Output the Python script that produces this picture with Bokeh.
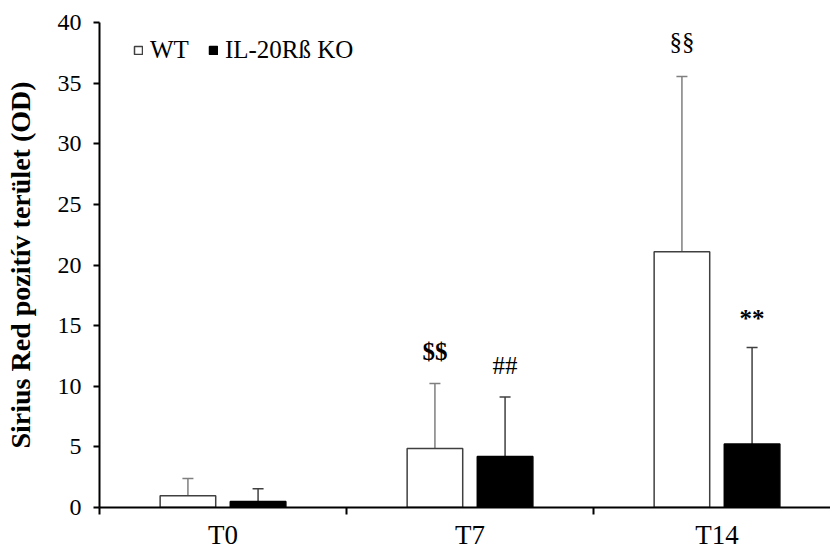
import numpy as np
from bokeh.plotting import figure
from bokeh.models import (Range1d, FixedTicker, ColumnDataSource, Whisker, TeeHead,
                          Legend, LegendItem)
from bokeh.embed import file_html
from bokeh.resources import INLINE
from bokeh.core.properties import value

# ---- data ----
cats = ["T0", "T7", "T14"]
wt_mean = [0.97, 4.86, 21.1]
wt_sd = [1.42, 5.36, 14.45]
ko_mean = [0.5, 4.2, 5.24]
ko_sd = [1.04, 4.92, 7.96]
wt_marks = ["", "$$", "§§"]
wt_mark_y = [np.nan, 12.9, 38.4]
wt_mark_style = ["normal", "bold", "normal"]
ko_marks = ["", "##", "**"]
ko_mark_y = [np.nan, 11.7, 15.6]
ko_mark_style = ["normal", "normal", "bold"]
y_ticks = [0, 5, 10, 15, 20, 25, 30, 35, 40]

FONT = "Liberation Serif"
dodge = 0.142
bw = 0.225

idx = np.arange(len(cats)) + 0.5
wt_x = idx - dodge
ko_x = idx + dodge

wt_src = ColumnDataSource(dict(x=wt_x, top=wt_mean, up=np.array(wt_mean) + np.array(wt_sd),
                               mark=wt_marks, my=wt_mark_y, st=wt_mark_style))
ko_src = ColumnDataSource(dict(x=ko_x, top=ko_mean, up=np.array(ko_mean) + np.array(ko_sd),
                               mark=ko_marks, my=ko_mark_y, st=ko_mark_style))

p = figure(width=830, height=552, output_backend="svg", toolbar_location=None,
           x_range=Range1d(0, 731 / 247), y_range=Range1d(0, 40),
           min_border_left=99, min_border_top=22, min_border_bottom=45, min_border_right=0)
p.outline_line_color = None
p.xgrid.visible = False
p.ygrid.visible = False
p.background_fill_color = "white"
p.border_fill_color = "white"

# error bars (upper only)
p.add_layout(Whisker(source=wt_src, base="x", lower="top", upper="up", dimension="height",
                     line_color="#7f7f7f", line_width=1.5, lower_head=None,
                     upper_head=TeeHead(size=11, line_color="#7f7f7f", line_width=1.5),
                     level="underlay"))
p.add_layout(Whisker(source=ko_src, base="x", lower="top", upper="up", dimension="height",
                     line_color="#404040", line_width=1.5, lower_head=None,
                     upper_head=TeeHead(size=11, line_color="#404040", line_width=1.5),
                     level="underlay"))

r_wt = p.vbar(x="x", top="top", bottom=0, width=bw, source=wt_src,
              fill_color="white", line_color="#404040", line_width=1.5)
r_ko = p.vbar(x="x", top="top", bottom=0, width=bw, source=ko_src,
              fill_color="black", line_color="black", line_width=1.5)

for src in (wt_src, ko_src):
    p.text(x="x", y="my", text="mark", source=src, text_font=value(FONT),
           text_font_size="25px", text_font_style="st", text_align="center",
           text_baseline="middle", text_color="black")

# axes
ya = p.yaxis[0]
ya.ticker = FixedTicker(ticks=y_ticks)
ya.axis_label = "Sirius Red pozitív terület (OD)"
ya.axis_label_text_font = FONT
ya.axis_label_text_font_style = "bold"
ya.axis_label_text_font_size = "28px"
ya.axis_label_text_color = "black"
ya.axis_label_standoff = 19
ya.major_label_text_font = FONT
ya.major_label_text_font_size = "24px"
ya.major_label_text_color = "black"
ya.major_label_standoff = 12
ya.major_tick_out = 6
ya.major_tick_in = 0
ya.minor_tick_out = 0
ya.minor_tick_in = 0
ya.axis_line_width = 2
ya.major_tick_line_width = 2

xa = p.xaxis[0]
xa.ticker = FixedTicker(ticks=list(idx), minor_ticks=list(range(len(cats) + 1)))
xa.major_label_overrides = {float(v): c for v, c in zip(idx, cats)}
xa.major_label_text_font = FONT
xa.major_label_text_font_size = "27px"
xa.major_label_text_color = "black"
xa.major_label_standoff = 5
xa.major_tick_out = 0
xa.major_tick_in = 0
xa.minor_tick_out = 7
xa.minor_tick_in = 0
xa.minor_tick_line_width = 2
xa.axis_line_width = 2

legend = Legend(items=[LegendItem(label="WT", renderers=[r_wt]),
                       LegendItem(label="IL-20Rß KO", renderers=[r_ko])],
                orientation="horizontal", location=(34, 443),
                glyph_width=10, glyph_height=10, label_standoff=7, spacing=19,
                padding=0, margin=0, border_line_color=None, background_fill_alpha=0,
                label_text_font=FONT, label_text_font_size="25px", label_text_color="black")
p.add_layout(legend)

open("out.html", "w").write(file_html(p, INLINE))
